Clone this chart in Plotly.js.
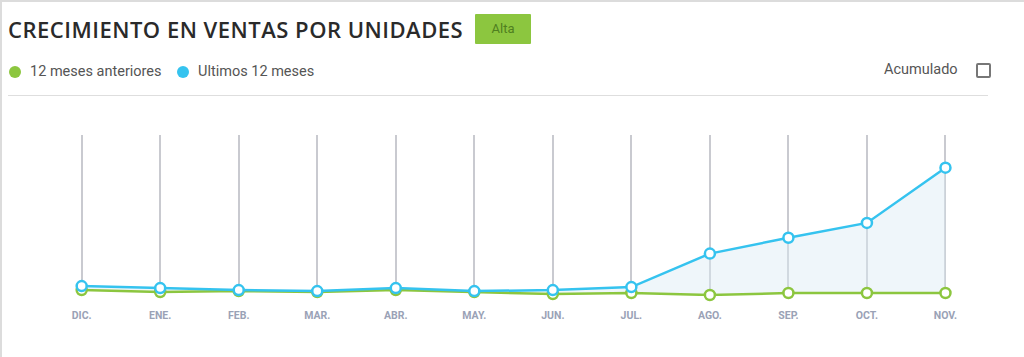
<!DOCTYPE html>
<html>
<head>
<meta charset="utf-8">
<script src="https://cdn.plot.ly/plotly-3.0.1.min.js"></script>
<style>
  html, body { margin:0; padding:0; background:#fff; }
  #wrap { position:relative; width:1024px; height:357px; overflow:hidden; background:#fff;
          border-top:2px solid #dcdcdc; border-left:2px solid #dcdcdc; box-sizing:border-box; }
  #chart { position:absolute; left:-2px; top:-2px; width:1024px; height:357px; }
  .abs { position:absolute; white-space:nowrap; }
  #title { left:6px; top:12px; font-family:"Open Sans", sans-serif; font-size:22px; font-weight:600; color:#2a2a2a; letter-spacing:0.5px; }
  #badge { left:473px; top:12px; width:56px; height:30px; background:#8cc63f; color:#4f7f1f;
           font-family:Roboto, sans-serif; font-size:13px; line-height:30px; text-align:center; border-radius:1px; }
  .dot { position:absolute; width:12px; height:12px; border-radius:50%; top:64px; }
  .leg { top:61px; font-family:Roboto, sans-serif; font-size:14.5px; color:#555; }
  #sep { position:absolute; left:6px; top:93px; width:980px; height:1px; background:#dedede; }
  #acum { left:882px; top:59px; font-family:Roboto, sans-serif; font-size:14.5px; color:#555; }
  #chk { position:absolute; left:974px; top:61px; width:11px; height:11px; border:2px solid #777; border-radius:2px; }
</style>
</head>
<body>
<div id="wrap">
  <div id="chart"></div>
  <div id="title" class="abs">CRECIMIENTO EN VENTAS POR UNIDADES</div>
  <div id="badge" class="abs">Alta</div>
  <div class="dot" style="left:7px;background:#8cc63f"></div>
  <div id="leg1" class="abs leg" style="left:28px">12 meses anteriores</div>
  <div class="dot" style="left:175px;background:#35c3ef"></div>
  <div id="leg2" class="abs leg" style="left:196px">Ultimos 12 meses</div>
  <div id="acum" class="abs">Acumulado</div>
  <div id="chk"></div>
  <div id="sep"></div>
</div>
<script>
const months = ["DIC.","ENE.","FEB.","MAR.","ABR.","MAY.","JUN.","JUL.","AGO.","SEP.","OCT.","NOV."];
const seriesPrev = [6.0, 4.8, 5.4, 4.8, 6.0, 4.8, 3.6, 4.2, 3.0, 4.2, 4.2, 4.2];
const seriesLast = [8.4, 7.2, 6.0, 5.4, 7.2, 5.4, 6.0, 7.8, 28.1, 37.7, 46.7, 80.2];
const seriesNames = ["12 meses anteriores", "Ultimos 12 meses"];

const green = "#8cc63f", blue = "#35c3ef";
const traces = [
  { x: months, y: seriesPrev, name: seriesNames[0], type: "scatter", mode: "lines+markers",
    line: { color: green, width: 2.5 }, cliponaxis: false,
    marker: { size: 10, color: "#fff", line: { color: green, width: 2.5 } } },
  { x: months, y: seriesLast, name: seriesNames[1], type: "scatter", mode: "lines+markers",
    fill: "tonexty", fillcolor: "rgba(220,236,243,0.45)", cliponaxis: false,
    line: { color: blue, width: 2.5 },
    marker: { size: 10, color: "#fff", line: { color: blue, width: 2.5 } } }
];
const layout = {
  width: 1024, height: 357,
  margin: { l: 0, r: 0, t: 135, b: 61 },
  paper_bgcolor: "rgba(0,0,0,0)", plot_bgcolor: "rgba(0,0,0,0)",
  showlegend: false,
  xaxis: { type: "category", range: [-1.04, 12.0], showgrid: true, gridcolor: "#c9cad0", gridwidth: 2,
           zeroline: false, showline: false, ticks: "", fixedrange: true, ticklabelstandoff: 11,
           tickfont: { family: "Roboto, sans-serif", size: 10.5, color: "#9aa2b6", weight: "bold" } },
  yaxis: { range: [2.4, 100], showgrid: false, zeroline: false, showticklabels: false, showline: false },
  font: { family: "Roboto, sans-serif" }
};
Plotly.newPlot("chart", traces, layout, { displayModeBar: false, staticPlot: true });
</script>
</body>
</html>
